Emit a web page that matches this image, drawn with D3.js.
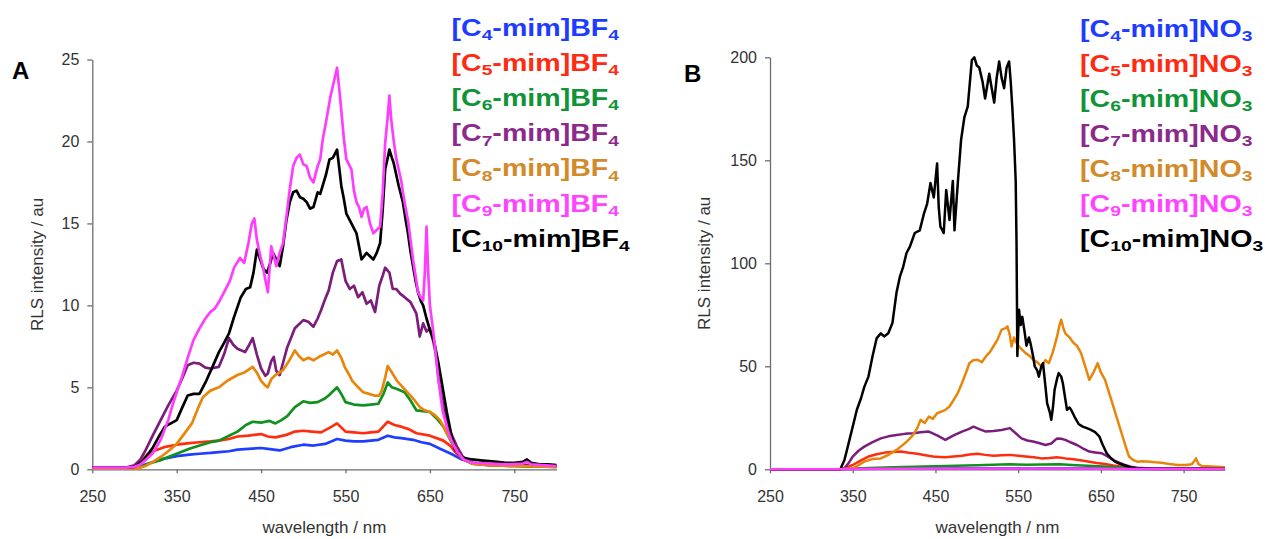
<!DOCTYPE html>
<html>
<head>
<meta charset="utf-8">
<script src="https://cdn.jsdelivr.net/npm/d3@7"></script>
<style>
  body { margin: 0; background: #fff; }
  svg { display: block; font-family: "Liberation Sans", Arial, sans-serif; }
</style>
</head>
<body>
<script>
// tick labels
var wavelengthTicks = [250, 350, 450, 550, 650, 750];
var yTicksA = [0, 5, 10, 15, 20, 25];
var yTicksB = [0, 50, 100, 150, 200];
var chainLengths = [4, 5, 6, 7, 8, 9, 10];

// panel A: [C_n-mim]BF4, [wavelength, intensity]
var a_C4 = [[250,0.1],[280,0.1],[295,0.1],[300,0.15],[310,0.25],[322,0.45],[335,0.65],[350,0.8],[365,0.9],[377,0.95],[390,1.0],[400,1.05],[412,1.1],[422,1.2],[435,1.25],[450,1.3],[458,1.25],[465,1.2],[472,1.15],[485,1.35],[500,1.5],[512,1.45],[526,1.55],[540,1.85],[550,1.75],[560,1.7],[571,1.7],[580,1.75],[589,1.8],[600,2.05],[608,1.95],[616,1.9],[630,1.8],[640,1.65],[650,1.55],[662,1.25],[675,0.95],[688,0.6],[700,0.4],[720,0.3],[750,0.25],[775,0.2],[800,0.2]];
var a_C5 = [[250,0.1],[290,0.1],[300,0.15],[308,0.5],[315,0.9],[322,1.1],[335,1.35],[350,1.5],[365,1.6],[377,1.65],[390,1.7],[400,1.75],[412,1.85],[422,2.0],[435,2.05],[450,2.15],[458,2.0],[467,1.95],[480,2.1],[490,2.3],[500,2.35],[510,2.3],[521,2.25],[530,2.5],[540,2.8],[550,2.3],[560,2.25],[571,2.2],[580,2.25],[589,2.3],[600,2.9],[608,2.7],[616,2.6],[625,2.45],[634,2.2],[650,2.05],[666,1.75],[675,1.4],[680,1.05],[690,0.6],[700,0.35],[720,0.25],[750,0.2],[800,0.15]];
var a_C6 = [[250,0.1],[300,0.1],[310,0.2],[320,0.4],[331,0.55],[340,0.75],[350,0.95],[365,1.25],[377,1.45],[390,1.65],[400,1.75],[412,2.05],[422,2.3],[432,2.7],[440,2.9],[450,2.85],[460,2.95],[467,2.8],[474,3.0],[481,3.25],[490,3.8],[500,4.15],[508,4.05],[517,4.1],[525,4.3],[530,4.5],[540,5.0],[545,4.6],[550,4.1],[560,3.95],[571,3.9],[580,3.95],[589,4.0],[595,4.6],[600,5.3],[605,5.0],[611,4.9],[620,4.7],[627,4.2],[634,3.6],[642,3.55],[650,3.5],[658,3.1],[666,2.6],[673,1.9],[680,1.25],[689,0.65],[700,0.35],[720,0.25],[750,0.2],[800,0.15]];
var a_C7 = [[250,0.1],[290,0.1],[300,0.25],[307,0.6],[313,1.15],[322,2.1],[331,3.0],[340,3.9],[350,4.8],[357,5.6],[363,6.35],[370,6.5],[377,6.45],[384,6.2],[390,6.15],[400,6.25],[406,7.0],[412,8.0],[417,7.6],[422,7.35],[431,7.15],[436,7.6],[440,8.0],[445,7.0],[450,6.15],[455,5.7],[458,5.85],[462,6.6],[465,6.85],[468,6.0],[472,5.75],[476,6.5],[481,7.45],[490,8.6],[500,9.1],[506,9.0],[512,8.7],[517,9.2],[521,9.7],[526,10.4],[530,10.9],[535,12.0],[540,12.7],[545,12.8],[550,11.5],[555,11.0],[560,11.2],[565,10.5],[570,10.8],[575,10.1],[580,10.3],[585,9.6],[590,11.2],[594,11.8],[597,12.3],[602,12.0],[606,11.0],[610,11.0],[615,10.7],[620,10.5],[627,10.2],[634,9.5],[638,8.1],[642,8.9],[646,8.4],[650,8.6],[654,7.8],[657,7.05],[661,5.2],[666,3.8],[670,2.9],[675,2.2],[682,1.4],[689,0.75],[700,0.4],[720,0.3],[750,0.25],[800,0.2]];
var a_C8 = [[250,0.05],[300,0.05],[307,0.1],[313,0.2],[322,0.45],[331,0.75],[340,1.1],[350,1.55],[358,2.1],[368,2.8],[375,3.7],[381,4.4],[390,4.8],[400,5.0],[410,5.4],[422,5.75],[430,5.9],[440,6.25],[445,5.9],[450,5.4],[455,5.1],[458,5.0],[462,5.5],[467,5.75],[476,6.05],[483,6.6],[490,7.25],[495,6.9],[500,6.65],[506,6.8],[512,6.65],[520,6.9],[530,7.15],[535,7.0],[540,7.25],[545,6.8],[549,6.25],[554,5.8],[558,5.4],[565,5.0],[571,4.7],[578,4.6],[584,4.5],[590,4.5],[593,4.8],[597,5.6],[600,6.3],[605,5.9],[611,5.4],[618,5.0],[625,4.6],[632,4.2],[638,3.8],[644,3.6],[650,3.5],[656,3.3],[662,3.0],[668,2.4],[675,1.75],[682,1.1],[689,0.65],[700,0.35],[720,0.25],[750,0.2],[800,0.15]];
var a_C9 = [[250,0.1],[290,0.1],[300,0.15],[307,0.3],[313,0.55],[322,1.0],[331,1.8],[340,3.0],[345,3.9],[350,4.7],[356,5.6],[363,6.8],[370,7.9],[377,8.6],[384,9.2],[390,9.6],[395,9.8],[400,10.2],[406,10.8],[413,11.5],[418,12.3],[425,12.9],[430,12.6],[435,13.8],[439,15.0],[442,15.3],[445,14.0],[449,13.0],[452,12.4],[456,11.3],[458,10.8],[462,13.6],[465,13.0],[468,12.4],[472,13.2],[476,13.8],[480,15.4],[484,17.1],[488,18.5],[492,19.0],[496,19.2],[500,18.6],[504,18.5],[508,17.8],[512,17.5],[517,18.5],[520,18.9],[523,20.1],[528,21.5],[532,22.7],[536,23.6],[540,24.5],[543,23.0],[545,21.9],[548,20.2],[551,18.9],[554,18.6],[557,18.3],[560,17.0],[563,16.3],[566,16.0],[569,15.4],[572,15.9],[575,16.0],[579,15.0],[583,14.4],[587,14.6],[591,14.8],[594,16.8],[597,19.9],[600,21.5],[602,22.8],[604,21.4],[607,20.1],[610,19.0],[613,18.3],[616,17.6],[618,16.9],[621,16.0],[624,15.2],[627,14.0],[630,12.8],[633,11.8],[636,10.8],[639,10.5],[642,10.3],[644,12.0],[646,14.8],[648,12.0],[650,10.0],[653,8.8],[656,7.5],[660,5.5],[665,3.6],[671,2.4],[676,1.7],[682,1.1],[690,0.6],[700,0.4],[720,0.35],[740,0.3],[760,0.35],[765,0.45],[770,0.3],[800,0.2]];
var a_C10 = [[250,0.1],[290,0.1],[300,0.15],[310,0.5],[322,1.35],[330,2.1],[336,2.6],[343,2.8],[350,3.0],[356,3.7],[363,4.5],[370,4.6],[377,4.6],[385,5.4],[392,6.2],[400,7.15],[406,7.7],[412,8.3],[418,9.3],[426,10.5],[432,11.0],[437,11.1],[441,12.0],[445,13.4],[449,12.8],[453,12.2],[457,12.0],[461,12.6],[464,13.2],[468,12.8],[472,12.4],[476,13.6],[480,15.2],[484,16.3],[488,16.9],[492,17.0],[496,16.6],[500,16.5],[504,16.3],[508,15.9],[512,16.0],[517,16.9],[520,16.8],[523,17.3],[527,18.0],[531,18.9],[535,19.0],[540,19.5],[543,18.2],[545,17.3],[548,16.5],[551,15.6],[557,15.0],[560,14.7],[563,14.4],[566,13.6],[569,12.8],[575,13.2],[579,13.0],[583,12.8],[587,13.2],[591,13.8],[594,15.8],[597,18.3],[600,19.0],[602,19.5],[605,19.0],[607,18.7],[610,18.0],[613,17.3],[618,16.3],[621,15.3],[624,14.4],[627,13.3],[630,12.4],[633,11.5],[636,10.8],[639,10.3],[642,10.0],[646,9.2],[650,8.5],[655,7.8],[660,6.5],[665,5.0],[670,3.5],[675,2.2],[680,1.2],[685,0.9],[690,0.7],[700,0.6],[710,0.55],[720,0.5],[730,0.45],[740,0.4],[750,0.4],[760,0.45],[765,0.6],[770,0.4],[780,0.3],[790,0.3],[800,0.25]];

// panel B: [C_n-mim]NO3
var b_C4 = [[250,0],[335,0],[345,0.2],[400,0.4],[500,0.5],[600,0.5],[650,0.4],[690,0.2],[800,0.1]];
var b_C5 = [[250,0],[335,0],[340,0.3],[350,2.1],[360,4.3],[369,6.2],[379,7.3],[389,8.1],[398,8.4],[408,8.6],[418,8.0],[428,7.5],[438,6.8],[447,6.2],[455,6.0],[462,5.8],[472,6.2],[482,6.6],[491,7.2],[501,7.5],[510,7.0],[520,6.6],[530,6.8],[540,7.0],[550,6.6],[559,6.2],[569,5.8],[578,5.3],[588,5.5],[597,5.8],[607,5.3],[617,4.9],[627,4.3],[636,3.7],[645,3.1],[655,2.6],[665,1.9],[675,1.3],[685,0.7],[694,0.3],[720,0.2],[800,0.2]];
var b_C6 = [[250,0],[335,0],[345,0.2],[360,0.5],[380,0.8],[400,1.0],[425,1.2],[450,1.5],[475,1.7],[500,2.0],[520,2.2],[540,2.5],[560,2.2],[580,2.3],[600,2.5],[620,2.0],[640,1.6],[660,1.2],[680,0.6],[700,0.3],[750,0.2],[800,0.2]];
var b_C7 = [[250,0],[335,0],[340,0.5],[345,3.0],[350,6.2],[357,9],[364,11],[374,13.2],[384,15],[393,16],[403,16.7],[413,17.2],[423,17.5],[432,18],[442,18.3],[452,16.5],[462,14.3],[472,16.5],[482,18.3],[490,19.5],[496,20.7],[503,19.5],[511,18.3],[520,18.6],[530,19.1],[540,20],[547,17.5],[554,15],[561,14],[568,13.5],[575,12.8],[583,11.8],[590,12.5],[597,15],[602,14.8],[607,14.3],[614,13],[621,11.8],[628,10.2],[636,8.6],[643,8.2],[651,7.8],[658,6.2],[665,4.5],[672,3.2],[679,2.1],[686,1.3],[694,0.8],[710,0.4],[750,0.3],[800,0.3]];
var b_C8 = [[250,0],[335,0],[340,0.2],[350,0.5],[357,2.0],[364,3.7],[374,5.0],[384,5.3],[393,7.0],[403,9.4],[408,11],[413,12.6],[418,14.5],[423,16.7],[428,20],[432,24],[437,22.5],[442,25.6],[447,24.5],[452,27.2],[457,28],[462,28.9],[467,30.5],[472,33.7],[477,37],[482,41.8],[487,47],[491,51.5],[496,53],[501,53.2],[506,52],[511,54.8],[516,57],[520,59.6],[525,63],[530,67.8],[535,68.5],[537,69.4],[540,65],[542,59.6],[545,64],[547,62],[551,59.6],[555,58],[559,56.4],[564,55],[568,53.2],[573,52],[578,50],[583,53],[587,51.5],[592,57],[597,64.5],[600,70],[602,72.6],[605,68],[607,66],[612,64],[617,61.3],[621,60],[626,56.4],[631,50],[636,43.4],[641,47],[646,51.5],[650,47],[655,43.4],[660,37],[665,30.5],[670,24],[675,17.5],[680,11],[684,6.2],[689,4.5],[694,3.7],[700,3.9],[709,3.7],[716,3.4],[723,3.2],[733,2.6],[743,2.1],[752,2.1],[760,2.5],[763,4],[765,5.3],[768,2.5],[772,1.6],[785,1.3],[800,1.0]];
var b_C9 = [[250,0],[335,0],[345,0.2],[400,0.3],[500,0.4],[600,0.4],[650,0.3],[690,0.2],[800,0.1]];
var b_C10 = [[250,0],[300,0],[335,0],[340,4.5],[345,12.6],[350,20.7],[355,28.9],[360,34.5],[364,40],[369,45],[374,55],[379,63.7],[384,66],[388,64.5],[393,66],[398,71],[403,86],[407,93.5],[411,98.3],[415,105],[419,108],[425,114.7],[431,116],[436,124],[440,129],[444,139],[448,132],[452,148.5],[454,127],[456,117.8],[460,114.7],[463,135.6],[467,121],[471,140],[473,116],[477,139],[481,160],[485,171],[489,176],[494,198.7],[497,200],[500,196],[503,195],[507,188],[510,180],[515,192],[518,185],[521,178],[524,190],[527,198],[530,190],[533,185],[536,195],[539,198],[541,188],[543,175],[545,160],[547,140],[548,110],[549,55],[551,77.5],[553,70],[555,74],[558,66],[560,60],[563,64],[565,61],[568,55],[570,50],[573,48],[575,45],[578,50],[580,51.5],[583,40],[585,32],[588,28],[590,24],[592,30],[594,38.6],[597,44],[599,46.7],[602,45],[604,41.8],[607,34],[609,28.9],[612,30],[614,28.9],[618,25.6],[623,22],[628,20.7],[633,20],[638,19.1],[643,18],[648,16],[652,12],[657,7.8],[662,5.5],[667,3.7],[672,2.8],[677,2.1],[685,1.0],[692,0.5],[700,0.4],[750,0.3],[800,0.3]];

var seriesA = [a_C4, a_C5, a_C6, a_C7, a_C8, a_C9, a_C10];
var seriesB = [b_C4, b_C5, b_C6, b_C7, b_C8, b_C9, b_C10];

// colours, same order as chainLengths
var lineColors = ["#1f3dff", "#ff2d10", "#10901c", "#7b1d7b", "#e8860c", "#ff3dff", "#000000"];
var textColors = ["#1e3cff", "#ff2a12", "#0f9438", "#8c2a8c", "#d28a2a", "#ff44ff", "#000000"];
var drawOrder = [0, 1, 2, 3, 4, 6, 5];

var svg = d3.select("body").append("svg")
    .attr("width", 1268)
    .attr("height", 539);

svg.append("rect").attr("width", 1268).attr("height", 539).attr("fill", "#fff");

function panel(o) {
    var x = d3.scaleLinear().domain([250, 800]).range([o.left, o.right]);
    var y = d3.scaleLinear().domain([0, o.ymax]).range([o.bottom, o.top]);
    var g = svg.append("g");

    var xa = g.append("g")
        .attr("transform", "translate(0," + o.bottom + ")")
        .call(d3.axisBottom(x).tickValues(wavelengthTicks).tickSize(4).tickPadding(17).tickSizeOuter(0));
    var ya = g.append("g")
        .attr("transform", "translate(" + o.left + ",0)")
        .call(d3.axisLeft(y).tickValues(o.yticks).tickSize(5).tickPadding(8).tickSizeOuter(0));
    [xa, ya].forEach(function(a) {
        a.selectAll("path, line").attr("stroke", "#6e6e6e").attr("stroke-width", 1.3);
        a.selectAll("text").attr("fill", "#333").attr("font-size", "16px")
            .attr("font-family", "Liberation Sans, Arial, sans-serif");
    });

    g.append("text")
        .attr("x", (o.left + o.right) / 2)
        .attr("y", 533)
        .attr("text-anchor", "middle")
        .attr("font-size", "17px")
        .attr("fill", "#333")
        .text("wavelength / nm");
    g.append("text")
        .attr("transform", "translate(" + o.ytitleX + "," + ((o.top + o.bottom) / 2) + ") rotate(-90)")
        .attr("text-anchor", "middle")
        .attr("font-size", "17px")
        .attr("fill", "#333")
        .text("RLS intensity / au");

    var line = d3.line()
        .x(function(d) { return x(d[0]); })
        .y(function(d) { return y(d[1]); });

    drawOrder.forEach(function(i) {
        g.append("path")
            .datum(o.series[i])
            .attr("d", line)
            .attr("fill", "none")
            .attr("stroke", lineColors[i])
            .attr("stroke-width", o.lw)
            .attr("stroke-linejoin", "round");
    });

    g.append("text")
        .attr("x", o.letterX).attr("y", o.letterY)
        .attr("font-size", "24px").attr("font-weight", "bold")
        .text(o.letter);

    // legend
    var k = null;
    chainLengths.forEach(function(n, i) {
        var t = g.append("text")
            .attr("font-size", "23px")
            .attr("font-weight", "bold")
            .attr("fill", textColors[i]);
        t.append("tspan").text("[C");
        t.append("tspan").attr("font-size", "15.5px").attr("dy", 4.5).text(n);
        t.append("tspan").attr("dy", -4.5).text("-mim]" + o.anion);
        t.append("tspan").attr("font-size", "15.5px").attr("dy", 4.5).text(o.anionSub);
        if (k === null) k = o.legendWidth / t.node().getBBox().width;
        t.attr("transform", "translate(" + o.legendX + "," + (o.legendY + i * o.legendStep) + ") scale(" + k + ",1)");
    });
}

panel({
    left: 92.3, right: 556.5, top: 59.5, bottom: 469.3, ymax: 25, yticks: yTicksA,
    series: seriesA, lw: 2.7, ytitleX: 43, letter: "A", letterX: 12, letterY: 79,
    anion: "BF", anionSub: "4", legendX: 451.5, legendY: 35.5, legendStep: 35.2, legendWidth: 168
});
panel({
    left: 770, right: 1225, top: 57.3, bottom: 469.3, ymax: 200, yticks: yTicksB,
    series: seriesB, lw: 2.5, ytitleX: 710, letter: "B", letterX: 684, letterY: 82,
    anion: "NO", anionSub: "3", legendX: 1080, legendY: 36.5, legendStep: 35, legendWidth: 173
});
</script>
</body>
</html>
